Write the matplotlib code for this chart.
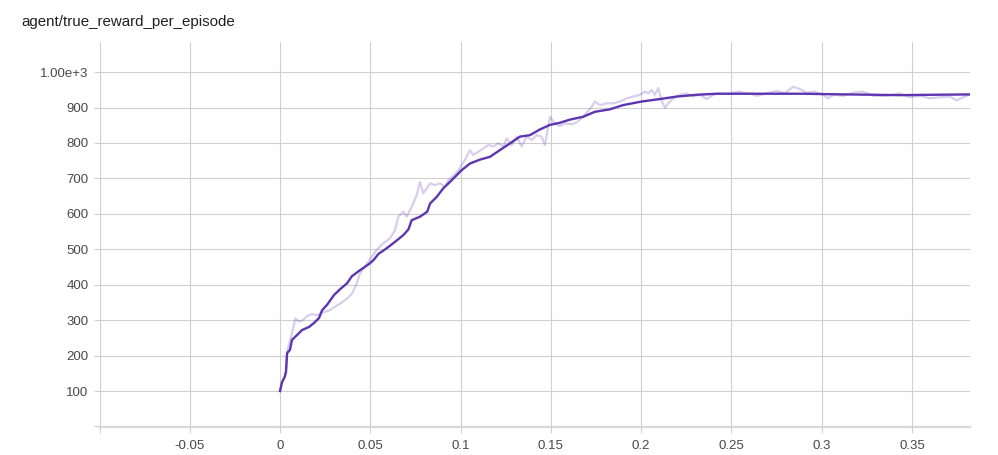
import matplotlib
matplotlib.use("Agg")
import matplotlib.pyplot as plt

title = "agent/true_reward_per_episode"

raw_x = [0, 0.0011, 0.0026, 0.0033, 0.0040, 0.0048, 0.0070, 0.0085, 0.0104, 0.0126,
         0.0150, 0.0177, 0.0205, 0.0233, 0.0270, 0.0306, 0.0334, 0.0371, 0.0399, 0.0425,
         0.0443, 0.0461, 0.0489, 0.0508, 0.0535, 0.0572, 0.0609, 0.0637, 0.0655, 0.0683,
         0.0701, 0.0729, 0.0757, 0.0775, 0.0793, 0.0812, 0.0831, 0.0858, 0.0886, 0.0914,
         0.0932, 0.0960, 0.0987, 0.1006, 0.1024, 0.1052, 0.1070, 0.1098, 0.1126, 0.1153,
         0.1181, 0.1209, 0.1236, 0.1255, 0.1283, 0.1311, 0.1338, 0.1366, 0.1394, 0.1421,
         0.1449, 0.1467, 0.1495, 0.1523, 0.1550, 0.1578, 0.1615, 0.1643, 0.1679, 0.1726,
         0.1744, 0.1772, 0.1809, 0.1846, 0.1883, 0.1920, 0.1956, 0.1993, 0.2021, 0.2039,
         0.2058, 0.2076, 0.2095, 0.2113, 0.2132, 0.2150, 0.2178, 0.2215, 0.2252, 0.2288,
         0.2326, 0.2363, 0.2399, 0.2436, 0.2473, 0.2510, 0.2547, 0.2584, 0.2602, 0.2640,
         0.2695, 0.2750, 0.2796, 0.2842, 0.2879, 0.2916, 0.2962, 0.3008, 0.3036, 0.3064,
         0.3119, 0.3174, 0.3228, 0.3285, 0.3359, 0.3433, 0.3488, 0.3544, 0.3599, 0.3654,
         0.3710, 0.3747, 0.3783, 0.3817]
raw_y = [100, 125, 140, 160, 215, 228, 272, 305, 296, 300,
         312, 317, 314, 321, 327, 338, 347, 361, 375, 404,
         432, 445, 465, 479, 498, 517, 531, 554, 592, 606,
         592, 620, 653, 690, 658, 672, 686, 681, 686, 676,
         695, 708, 722, 738, 752, 780, 766, 775, 785, 794,
         790, 799, 790, 813, 794, 818, 790, 818, 808, 822,
         818, 794, 874, 855, 848, 855, 853, 858, 874, 902,
         917, 907, 912, 912, 917, 926, 931, 936, 945, 940,
         950, 936, 955, 921, 899, 912, 926, 936, 940, 931,
         936, 924, 936, 940, 938, 942, 945, 939, 940, 933,
         940, 947, 940, 959, 952, 942, 945, 936, 926, 936,
         933, 942, 945, 933, 933, 940, 929, 933, 926, 929,
         931, 920, 929, 936]

smooth_x = [0, 0.0011, 0.0026, 0.0033, 0.0039, 0.0055, 0.0066, 0.0094, 0.0122, 0.0161,
            0.0188, 0.0216, 0.0233, 0.0260, 0.0299, 0.0332, 0.0371, 0.0398, 0.0443, 0.0489,
            0.0517, 0.0545, 0.0591, 0.0637, 0.0683, 0.0711, 0.0729, 0.0775, 0.0815, 0.0831,
            0.0868, 0.0904, 0.0941, 0.0978, 0.1003, 0.1052, 0.1107, 0.1163, 0.1218, 0.1274,
            0.1329, 0.1384, 0.1439, 0.1495, 0.1550, 0.1606, 0.1679, 0.1744, 0.1827, 0.1901,
            0.2003, 0.2104, 0.2197, 0.2307, 0.2418, 0.2529, 0.2640, 0.2750, 0.2900, 0.3008,
            0.3150, 0.3300, 0.3433, 0.3600, 0.3817]
smooth_y = [100, 125, 140, 154, 207, 216, 244, 258, 272, 281,
            292, 306, 328, 343, 371, 387, 404, 424, 441, 457,
            469, 487, 503, 521, 540, 556, 582, 592, 606, 629,
            648, 672, 690, 709, 722, 742, 753, 761, 780, 799,
            818, 822, 838, 851, 857, 866, 874, 888, 895, 907,
            917, 924, 931, 936, 939, 939, 939, 939, 939, 938,
            937, 936, 935, 936, 937]

x_ticks = [-0.1, -0.05, 0, 0.05, 0.1, 0.15, 0.2, 0.25, 0.3, 0.35]
x_labels = ["", "-0.05", "0", "0.05", "0.1", "0.15", "0.2", "0.25", "0.3", "0.35"]
y_ticks = [0, 100, 200, 300, 400, 500, 600, 700, 800, 900, 1000]
y_labels = ["", "100", "200", "300", "400", "500", "600", "700", "800", "900", "1.00e+3"]

plt.rcParams['font.family'] = ['Liberation Sans', 'DejaVu Sans']

fig = plt.figure(figsize=(9.98, 4.55), dpi=100)
ax = fig.add_axes([0.0997, 0.0615, 0.8723, 0.8462])

line_color = '#5e35b1'
ax.plot(raw_x, raw_y, color=line_color, alpha=0.24, lw=1.6, solid_joinstyle='round', zorder=3)
ax.plot(smooth_x, smooth_y, color=line_color, lw=1.7, solid_joinstyle='round', zorder=4)

ax.set_xlim(-0.1, 0.3822)
ax.set_ylim(-1.6, 1085)

ax.set_xticks(x_ticks)
ax.set_xticklabels(x_labels)
ax.set_yticks(y_ticks)
ax.set_yticklabels(y_labels)

grid_c = '#cfcfcf'
ax.grid(True, color=grid_c, lw=0.8, zorder=1)
for s in ['top', 'right', 'left']:
    ax.spines[s].set_visible(False)
ax.spines['bottom'].set_color('#d8d8d8')
ax.spines['bottom'].set_linewidth(1.6)
ax.tick_params(axis='both', colors=grid_c, labelcolor='#484848', labelsize=9.5,
               length=4.5, width=0.8)
ax.tick_params(axis='x', pad=4.5)
ax.tick_params(axis='y', pad=3.5)

fig.text(0.021, 0.952, title, fontsize=10.9, color='#212121', ha='left', va='center')

fig.savefig('out.png', dpi=100)
